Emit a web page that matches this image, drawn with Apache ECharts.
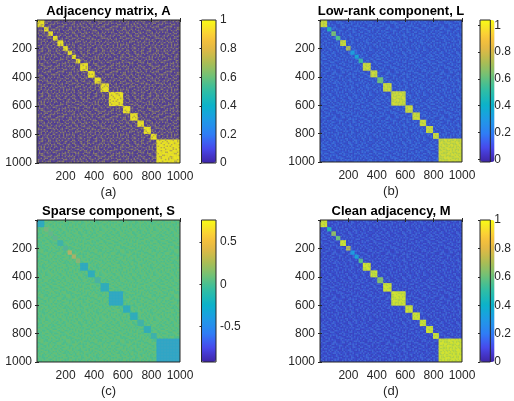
<!DOCTYPE html>
<html><head><meta charset="utf-8">
<style>html,body{margin:0;padding:0;background:#fff}#c{width:514px;height:401px}</style>
<script src="https://cdn.jsdelivr.net/npm/echarts@6/dist/echarts.min.js"></script>
</head><body><div id="c"></div>
<script>
// community boundaries along the matrix diagonal
const edges = [0,50,80,112,143,183,215,244,272,302,356,403,445,503,602,652,703,747,796,836,1000];
// value of each community block, per panel
const blocksA = [.98,.98,.98,.98,.98,.98,.98,.98,.98,.98,.98,.98,.98,.98,.98,.98,.98,.98,.98,.98];
const blocksL = [.98,.46,.64,.57,.98,.72,.33,.36,.52,.98,.98,.62,.98,.98,.98,.98,.98,.98,.98,.98];
const blocksS = [-.27,.15,.07,.05,-.1,0,.42,.36,.22,-.27,-.24,-.05,-.24,-.29,-.24,-.24,-.1,-.2,-.12,-.32];
const blocksM = [.98,.46,.66,.6,.98,.72,.32,.35,.57,.98,.98,.64,.98,.98,.98,.98,.98,.98,.98,.98];
// value of everything off the diagonal, per panel
const backA = 0, backL = 0.14, backS = 0.03, backM = 0.12;
const titles = ['Adjacency matrix, A','Low-rank component, L','Sparse component, S','Clean adjacency, M'];
const captions = ['(a)','(b)','(c)','(d)'];
const ranges = [[0,1],[-0.02,1.04],[-0.92,0.76],[0,1]];
const barTicks = [[0,.2,.4,.6,.8,1],[0,.2,.4,.6,.8,1],[-.5,0,.5],[0,.2,.4,.6,.8,1]];
const parula = ['#3e26a8','#4435c8','#4749eb','#3c63f2','#2f7df5','#278cee','#1f9ae6','#15a7d9','#0cb2ca','#1cb8b8','#2ebda6','#4abf90','#6bc17a','#8cc066','#aabd55','#c8bb4b','#e2b945','#f2bf3d','#fbcf36','#f8e626','#f9fb14'];

// film-grain texture for the fills: a fixed tile of grain strengths, styling only
const grain = [
'072519384620739158264071935826140739',
'518306427195830264719056382941750268',
'264971058342619705384126097352864105',
'930485216709452831067945218630794512',
'147062953814076295381740926538104627',
'685319740268531097426853174902651380',
'309746182530964218753069482176305947',
'752081496327185640931572806493127058',
'416938205761340927586214679305842691',
'890253714086927351640879132564098327',
'234761098542618093725401386297516840',
'561097832406753148926375094816230795',
'978326541079284650139867205431976082',
'103485967231496072815320968457102639',
'746291038574130869427156390824675310',
'385704126968751203946083712596438271',
'620918453207369485710492637105892364',
'197463580126840751369748251039674582',
'853026794135972608143605978214306719',
'460317928654201379586931406782159043',
'729581306487613940275018264359827106',
'314609852170538264097523871604915238',
'986274013592746108352469130875260491',
'051738649203915487624817095326748150',
'672490185736280519743106582941037628',
'238105974681457036291654837209165473',
'504863219047629318450972146385702916',
'791326058412085743962380519674238051',
'146957302869314620875213760498591327',
'380612495730568194726049382517604983'
];
function speckle(layers){
  const cell=1.5, cv=document.createElement('canvas');
  cv.width=grain[0].length*cell; cv.height=grain.length*cell;
  const ctx=cv.getContext('2d');
  grain.forEach((row,y)=>{ for(let x=0;x<row.length;x++){
    const d=+row[x];
    layers.forEach(l=>{ if(d>=l.from && d<=l.to){ ctx.fillStyle=l.color; ctx.fillRect(x*cell,y*cell,cell,cell);} });
  }});
  return {image:cv,repeat:'repeat'};
}
const ink = '#262626';
const font = '"Liberation Sans", Arial, sans-serif';
const hiBlock = speckle([{from:0,to:5,color:'rgba(150,198,85,.72)'},{from:6,to:9,color:'rgba(178,212,70,.62)'}]);
const loBlock = speckle([{from:0,to:3,color:'rgba(90,110,190,.2)'}]);
const blueBack = speckle([{from:0,to:3,color:'rgba(50,62,160,.6)'},{from:4,to:6,color:'rgba(48,84,180,.6)'},{from:7,to:9,color:'rgba(62,120,190,.55)'}]);
const sparseBlock = speckle([{from:0,to:9,color:'rgba(105,160,165,.4)'}]);
const panels = [
  {blocks:blocksA, back:backA, l:37,  t:20,  w:143, h:143, bl:201.5,
   bg:speckle([{from:0,to:2,color:'rgba(100,85,130,.8)'},{from:3,to:5,color:'rgba(150,140,95,.85)'},{from:6,to:7,color:'rgba(125,112,118,.8)'},{from:8,to:9,color:'rgba(85,70,140,.7)'}]),
   hi:speckle([{from:0,to:1,color:'rgba(140,125,105,.62)'},{from:2,to:5,color:'rgba(195,190,60,.5)'},{from:6,to:9,color:'rgba(210,200,50,.4)'}]), lo:loBlock},
  {blocks:blocksL, back:backL, l:320, t:20,  w:142, h:142, bl:480, bg:blueBack, hi:hiBlock, lo:loBlock},
  {blocks:blocksS, back:backS, l:37,  t:220, w:143, h:142, bl:201.5,
   bg:speckle([{from:0,to:3,color:'rgba(130,190,90,.4)'},{from:7,to:9,color:'rgba(60,180,150,.3)'}]),
   hi:sparseBlock,lo:sparseBlock},
  {blocks:blocksM, back:backM, l:320, t:220, w:142, h:142, bl:480, bg:blueBack, hi:hiBlock, lo:loBlock}
];
const grid=[], xAxis=[], yAxis=[], series=[], visualMap=[], title=[];

panels.forEach((p,i)=>{
  const g = grid.length;
  grid.push({left:p.l,top:p.t,width:p.w,height:p.h,show:true,borderColor:ink,borderWidth:1,backgroundColor:'transparent',z:10});
  const base = {min:0,max:1000,interval:200,gridIndex:g,splitLine:{show:false},z:10,
    axisLine:{show:false},axisTick:{show:true,inside:true,length:2,lineStyle:{color:ink,width:1}}};
  const xi = xAxis.length, yi = yAxis.length;
  xAxis.push({...base,type:'value',position:'bottom',
    axisLabel:{show:true,color:ink,fontFamily:font,fontSize:12,margin:8,showMinLabel:false,showMaxLabel:true,formatter:v=>String(v)}});
  xAxis.push({...base,type:'value',position:'top',axisLabel:{show:false}});
  yAxis.push({...base,type:'value',position:'left',inverse:true,
    axisLabel:{show:true,color:ink,fontFamily:font,fontSize:12,margin:5,showMinLabel:false,showMaxLabel:true,formatter:v=>String(v)}});
  yAxis.push({...base,type:'value',position:'right',inverse:true,axisLabel:{show:false}});

  const rows=[[0,1000,0,1000,p.back]];
  for(let b=0;b<p.blocks.length;b++) rows.push([edges[b],edges[b+1],edges[b],edges[b+1],p.blocks[b]]);
  series.push({type:'custom',coordinateSystem:'cartesian2d',xAxisIndex:xi,yAxisIndex:yi,silent:true,clip:true,
    encode:{x:[0,1],y:[2,3]},data:rows,z:2,
    renderItem:(params,api)=>{
      const a=api.coord([api.value(0),api.value(2)]), c=api.coord([api.value(1),api.value(3)]);
      const shape={x:a[0],y:a[1],width:c[0]-a[0],height:c[1]-a[1]};
      const tex = params.dataIndex===0 ? p.bg : (api.value(4)>=.75 ? p.hi : p.lo);
      return {type:'group',children:[
        {type:'rect',shape,style:{fill:api.visual('color')}},
        {type:'rect',shape,style:{fill:tex}}
      ]};
    }});
  visualMap.push({type:'continuous',seriesIndex:series.length-1,dimension:4,min:ranges[i][0],max:ranges[i][1],
    left:p.bl,top:p.t,itemWidth:14.5,itemHeight:p.h,padding:0,calculable:false,text:null,hoverLink:false,
    showLabel:false,inRange:{color:parula},borderWidth:0,z:4});

  // colour-bar frame and tick labels
  const gb = grid.length;
  grid.push({left:p.bl,top:p.t,width:14.5,height:p.h,show:true,borderColor:ink,borderWidth:1,backgroundColor:'transparent',z:10});
  xAxis.push({type:'value',gridIndex:gb,min:0,max:1,show:false});
  yAxis.push({type:'value',gridIndex:gb,position:'right',min:ranges[i][0],max:ranges[i][1],z:10,splitLine:{show:false},
    axisLine:{show:false},axisTick:{show:true,inside:true,length:2,customValues:barTicks[i],lineStyle:{color:ink}},
    axisLabel:{show:true,customValues:barTicks[i],color:ink,fontFamily:font,fontSize:12,margin:4,
      formatter:v=>String(+v.toFixed(2))}});

  const cx = p.l+p.w/2;
  title.push({text:titles[i],left:cx,top:p.t-16,textAlign:'center',padding:0,
    textStyle:{color:'#000',fontFamily:font,fontSize:13,fontWeight:'bold',lineHeight:14}});
  title.push({text:captions[i],left:cx,top:p.t+p.h+22,textAlign:'center',padding:0,
    textStyle:{color:ink,fontFamily:font,fontSize:13,fontWeight:'normal',lineHeight:14}});
});
const chart = echarts.init(document.getElementById('c'),null,{renderer:'canvas'});
chart.setOption({animation:false,backgroundColor:'#fff',title,grid,xAxis,yAxis,series,visualMap});
</script></body></html>
